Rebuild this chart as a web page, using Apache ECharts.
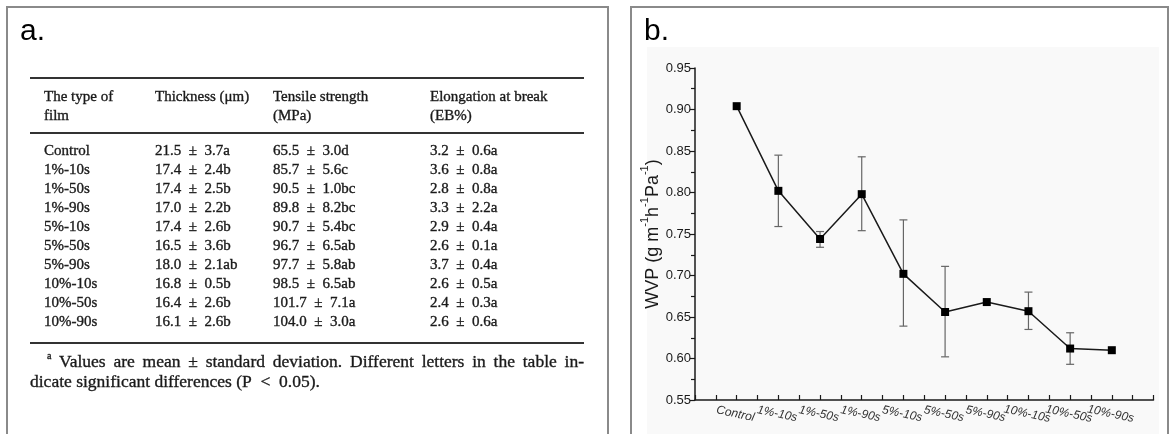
<!DOCTYPE html>
<html>
<head>
<meta charset="utf-8">
<script src="https://cdn.jsdelivr.net/npm/echarts@6/dist/echarts.min.js"></script>
<style>
  html, body { margin: 0; padding: 0; background: #fff; }
  #chart { width: 1170px; height: 434px; }
</style>
</head>
<body>
<div id="chart"></div>
<script>
// film types (shared by the table and the WVP plot)
const categories = ['Control', '1%-10s', '1%-50s', '1%-90s', '5%-10s', '5%-50s', '5%-90s', '10%-10s', '10%-50s', '10%-90s'];

// panel a: table columns
const tableHeader = [['The type of', 'film'], ['Thickness (μm)'], ['Tensile strength', '(MPa)'], ['Elongation at break', '(EB%)']];
const thickness = ['21.5 ± 3.7a', '17.4 ± 2.4b', '17.4 ± 2.5b', '17.0 ± 2.2b', '17.4 ± 2.6b', '16.5 ± 3.6b', '18.0 ± 2.1ab', '16.8 ± 0.5b', '16.4 ± 2.6b', '16.1 ± 2.6b'];
const tensile = ['65.5 ± 3.0d', '85.7 ± 5.6c', '90.5 ± 1.0bc', '89.8 ± 8.2bc', '90.7 ± 5.4bc', '96.7 ± 6.5ab', '97.7 ± 5.8ab', '98.5 ± 6.5ab', '101.7 ± 7.1a', '104.0 ± 3.0a'];
const elongation = ['3.2 ± 0.6a', '3.6 ± 0.8a', '2.8 ± 0.8a', '3.3 ± 2.2a', '2.9 ± 0.4a', '2.6 ± 0.1a', '3.7 ± 0.4a', '2.6 ± 0.5a', '2.4 ± 0.3a', '2.6 ± 0.6a'];
const footnote1 = 'Values are mean ± standard deviation. Different letters in the table in-';
const footnote2 = 'dicate significant differences (P\u2002<\u20020.05).';

// panel b: WVP mean and error bar ends
const wvpMean = [0.904, 0.802, 0.744, 0.798, 0.702, 0.656, 0.668, 0.657, 0.612, 0.610];
const wvpLow  = [null, 0.759, 0.734, 0.754, 0.639, 0.602, null, 0.635, 0.593, null];
const wvpHigh = [null, 0.845, 0.753, 0.843, 0.767, 0.711, null, 0.680, 0.631, null];

const serif = '"Liberation Serif", "Times New Roman", serif';
const sans = '"Liberation Sans", Arial, sans-serif';
const ink = '#1a1a1a';

// ---- table layout (panel a) ----
const colX = [44, 155, 273, 430];
const ruleL = 30, ruleR = 584;
const gr = [];

function txt(x, y, s, font, fill) {
    return {
        type: 'text', x: x, y: y, silent: true,
        style: { text: s, font: font, fill: fill || ink, stroke: fill || ink, lineWidth: 0.35, verticalAlign: 'middle' }
    };
}
function hline(y, x1, x2, w, c) {
    return { type: 'line', silent: true, shape: { x1: x1, y1: y, x2: x2, y2: y }, style: { stroke: c || '#333', lineWidth: w || 1.5 } };
}
const spaced = s => s.replace(' ± ', '\u2002±\u2002');

// panel frames
gr.push({ type: 'rect', silent: true, shape: { x: 7, y: 7, width: 601, height: 450 }, style: { fill: 'none', stroke: '#8a8a8a', lineWidth: 2 } });
gr.push({ type: 'rect', silent: true, shape: { x: 631, y: 7, width: 537, height: 450 }, style: { fill: 'none', stroke: '#8a8a8a', lineWidth: 2 } });
gr.push({ type: 'rect', silent: true, z: -5, shape: { x: 647, y: 47, width: 512, height: 390 }, style: { fill: '#f9f9f9' } });

gr.push({ type: 'text', x: 20, y: 32, silent: true, style: { text: 'a.', font: '30px ' + sans, fill: '#000', verticalAlign: 'middle' } });
gr.push({ type: 'text', x: 644, y: 32, silent: true, style: { text: 'b.', font: '30px ' + sans, fill: '#000', verticalAlign: 'middle' } });

gr.push(hline(78, ruleL, ruleR, 2));
gr.push(hline(133, ruleL, ruleR, 2));
gr.push(hline(343, ruleL, ruleR, 2));

const cellFont = '15px ' + serif;
tableHeader.forEach((lines, c) => {
    lines.forEach((s, k) => gr.push(txt(colX[c], 97 + k * 19, s, cellFont)));
});
categories.forEach((name, r) => {
    const y = 151 + r * 19;
    gr.push(txt(colX[0], y, name, cellFont));
    gr.push(txt(colX[1], y, spaced(thickness[r]), cellFont));
    gr.push(txt(colX[2], y, spaced(tensile[r]), cellFont));
    gr.push(txt(colX[3], y, spaced(elongation[r]), cellFont));
});

// footnote, first line justified between x=59 and the rule end
const noteFont = '17.5px ' + serif;
const ctx = document.createElement('canvas').getContext('2d');
ctx.font = noteFont;
const words = footnote1.split(' ');
const widths = words.map(w => ctx.measureText(w).width);
const startX = 59;
const gap = (ruleR - startX - widths.reduce((a, b) => a + b, 0)) / (words.length - 1);
let cx = startX;
words.forEach((w, i) => {
    gr.push(txt(cx, 362, w, noteFont));
    cx += widths[i] + gap;
});
gr.push(txt(47, 356, 'a', '10px ' + serif));
gr.push(txt(ruleL, 382, footnote2, noteFont));

// ---- plot (panel b) ----
const meanPts = wvpMean.map((v, i) => [i + 1, v]);
const errPts = [];
wvpMean.forEach((v, i) => {
    if (wvpLow[i] != null) errPts.push([i + 1, wvpLow[i], wvpHigh[i]]);
});

const chart = echarts.init(document.getElementById('chart'), null, { renderer: 'canvas' });
chart.setOption({
    animation: false,
    backgroundColor: '#fff',
    graphic: { elements: gr },
    grid: { left: 695, right: 16.5, top: 68, bottom: 34 },
    xAxis: {
        type: 'value', min: 0, max: 11, interval: 0.5,
        splitLine: { show: false },
        axisLine: { lineStyle: { color: ink, width: 1.5 } },
        axisTick: { inside: true, length: 5, lineStyle: { color: ink, width: 1.2 } },
        axisLabel: {
            formatter: v => (Number.isInteger(v) && v >= 1 && v <= categories.length) ? categories[v - 1] : '',
            rotate: -12, align: 'center', verticalAlign: 'top', margin: 8,
            fontFamily: sans, fontStyle: 'italic', fontSize: 12, color: '#333'
        }
    },
    yAxis: {
        type: 'value', min: 0.55, max: 0.95, interval: 0.05,
        name: '{a|WVP (g m}{s|-1}{a|h}{s|-1}{a|Pa}{s|-1}{a|)}',
        nameLocation: 'middle', nameGap: 20, nameRotate: 90,
        nameTextStyle: {
            rich: {
                a: { fontFamily: sans, fontSize: 18, color: ink, lineHeight: 22, verticalAlign: 'bottom' },
                s: { fontFamily: sans, fontSize: 11, color: ink, lineHeight: 22, verticalAlign: 'top' }
            }
        },
        splitLine: { show: false },
        axisLine: { show: true, lineStyle: { color: ink, width: 1.5 } },
        axisTick: { show: true, length: 5, lineStyle: { color: ink, width: 1.2 } },
        minorTick: { show: true, splitNumber: 2, length: 4, lineStyle: { color: ink, width: 1.2 } },
        axisLabel: { formatter: v => v.toFixed(2), fontFamily: sans, fontSize: 13, color: ink, margin: 4 }
    },
    series: [
        {
            type: 'custom', z: 1, silent: true,
            data: errPts,
            renderItem: (params, api) => {
                const lo = api.coord([api.value(0), api.value(1)]);
                const hi = api.coord([api.value(0), api.value(2)]);
                const st = { stroke: '#666', lineWidth: 1.2 };
                const cap = 4;
                return {
                    type: 'group', children: [
                        { type: 'line', shape: { x1: lo[0], y1: lo[1], x2: hi[0], y2: hi[1] }, style: st },
                        { type: 'line', shape: { x1: lo[0] - cap, y1: lo[1], x2: lo[0] + cap, y2: lo[1] }, style: st },
                        { type: 'line', shape: { x1: hi[0] - cap, y1: hi[1], x2: hi[0] + cap, y2: hi[1] }, style: st }
                    ]
                };
            }
        },
        {
            type: 'line', z: 3, silent: true,
            data: meanPts,
            symbol: 'rect', symbolSize: 8,
            itemStyle: { color: '#000' },
            lineStyle: { color: ink, width: 1.5 }
        }
    ]
});
</script>
</body>
</html>
